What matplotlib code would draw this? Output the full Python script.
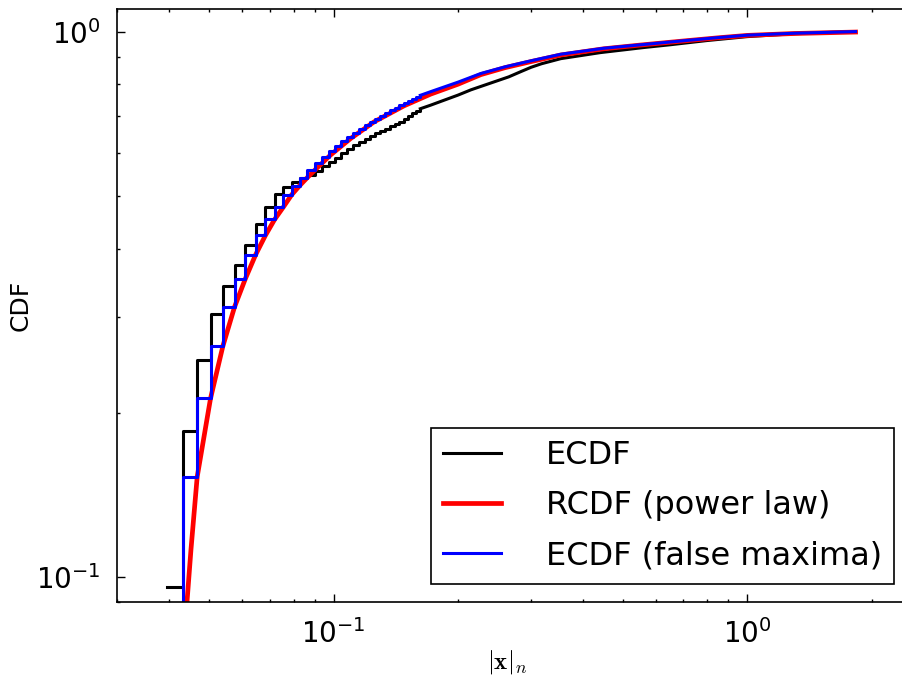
import matplotlib
matplotlib.use('Agg')
import matplotlib.pyplot as plt
from matplotlib.ticker import NullFormatter

# binned |x|_n values where the empirical CDFs jump
step_x = [0.0396, 0.0432, 0.0468, 0.0504, 0.0540, 0.0576, 0.0612, 0.0648,
          0.0684, 0.0720, 0.0756, 0.0792, 0.0828, 0.0864, 0.0900, 0.0936,
          0.0972, 0.1008, 0.1044, 0.1080, 0.1116, 0.1152, 0.1188, 0.1224,
          0.1260, 0.1296, 0.1332, 0.1368, 0.1404, 0.1440, 0.1476, 0.1512,
          0.1548, 0.1584, 0.1620]

ecdf_steps = [0.0959, 0.185, 0.2496, 0.304, 0.3416, 0.3737, 0.4056, 0.4444,
              0.4768, 0.5044, 0.5187, 0.530, 0.538, 0.546, 0.556, 0.566,
              0.576, 0.587, 0.598, 0.609, 0.619, 0.628, 0.636, 0.644,
              0.651, 0.658, 0.664, 0.670, 0.676, 0.683, 0.690, 0.700,
              0.708, 0.716, 0.722]

false_max_steps = [0.06, 0.1527, 0.2125, 0.2652, 0.3126, 0.3524, 0.390, 0.4229,
                   0.4524, 0.4768, 0.5023, 0.522, 0.540, 0.557, 0.574, 0.589,
                   0.603, 0.616, 0.629, 0.641, 0.652, 0.663, 0.673, 0.683,
                   0.692, 0.701, 0.709, 0.717, 0.725, 0.732, 0.739, 0.746,
                   0.752, 0.758, 0.764]

# above ~0.16 the steps are too fine to see, so the tails are plain lines
ecdf_tail_x = [0.162, 0.1716, 0.181, 0.2, 0.2147, 0.24, 0.265, 0.284, 0.30,
               0.318, 0.354, 0.441, 0.5625, 0.652, 0.8, 1.0, 1.3, 1.826]
ecdf_tail = [0.722, 0.733, 0.744, 0.765, 0.782, 0.805, 0.826, 0.845, 0.860,
             0.873, 0.892, 0.915, 0.935, 0.946, 0.963, 0.979, 0.991, 1.0]

false_max_tail_x = [0.162, 0.1716, 0.181, 0.2, 0.227, 0.26, 0.3, 0.3544,
                    0.45, 0.5537, 0.7, 0.85, 1.0, 1.3, 1.826]
false_max_tail = [0.764, 0.776, 0.787, 0.808, 0.838, 0.862, 0.884, 0.909,
                  0.932, 0.946, 0.962, 0.975, 0.985, 0.993, 1.0]

# fitted power law CDF
rcdf_x = [0.0437, 0.04423, 0.04521, 0.0468, 0.0504, 0.0540, 0.0576, 0.0612,
          0.0648, 0.0684, 0.0720, 0.0756, 0.0792, 0.0828, 0.0864, 0.0900,
          0.0983, 0.110, 0.1252, 0.148, 0.1716, 0.2, 0.227, 0.26, 0.3,
          0.3544, 0.45, 0.5537, 0.7, 0.85, 1.0, 1.3, 1.826]
rcdf = [0.075, 0.0903, 0.1124, 0.1527, 0.2125, 0.2652, 0.3126, 0.3524,
        0.390, 0.4229, 0.4524, 0.4768, 0.5023, 0.522, 0.540, 0.557,
        0.594, 0.637, 0.683, 0.731, 0.768, 0.801, 0.834, 0.859, 0.881,
        0.906, 0.930, 0.945, 0.961, 0.974, 0.984, 0.992, 0.998]

fig = plt.figure(figsize=(9.03, 6.88), dpi=100)
ax = fig.add_axes([117.3 / 903, 1 - 602 / 688, (912 - 117.3) / 903, 593 / 688])

ax.plot(step_x, ecdf_steps, color='black', lw=2.2, drawstyle='steps-post',
        label='ECDF')
ax.plot(ecdf_tail_x, ecdf_tail, color='black', lw=2.2)
ax.plot(rcdf_x, rcdf, color='red', lw=3.4, label='RCDF (power law)')
ax.plot(step_x, false_max_steps, color='blue', lw=2.2, drawstyle='steps-post',
        label='ECDF (false maxima)')
ax.plot(false_max_tail_x, false_max_tail, color='blue', lw=2.2)

ax.set_xscale('log')
ax.set_yscale('log')
ax.set_xlim(0.03, 2.5)
ax.set_ylim(0.09, 1.1)
ax.xaxis.set_minor_formatter(NullFormatter())
ax.yaxis.set_minor_formatter(NullFormatter())

ax.tick_params(which='both', direction='in', top=True, right=True,
               width=1.0, labelsize=20, pad=12)
ax.tick_params(which='major', length=6)
ax.tick_params(which='minor', length=2.5)
for sp in ax.spines.values():
    sp.set_linewidth(1.2)

ax.set_ylabel('CDF', fontsize=18)
ax.yaxis.set_label_coords(-0.106, 0.5)
ax.set_xlabel(r'$|\mathbf{x}|_n$', fontsize=18, math_fontfamily='cm')
ax.xaxis.set_label_coords(0.49, -0.078)

leg = ax.legend(loc='lower right', fontsize=23, fancybox=False, framealpha=1,
                edgecolor='black', borderaxespad=0.55, labelspacing=0.6,
                handletextpad=1.4, handlelength=1.8, borderpad=0.4)
leg.get_frame().set_linewidth(1.2)

fig.savefig('out.png', dpi=100)
